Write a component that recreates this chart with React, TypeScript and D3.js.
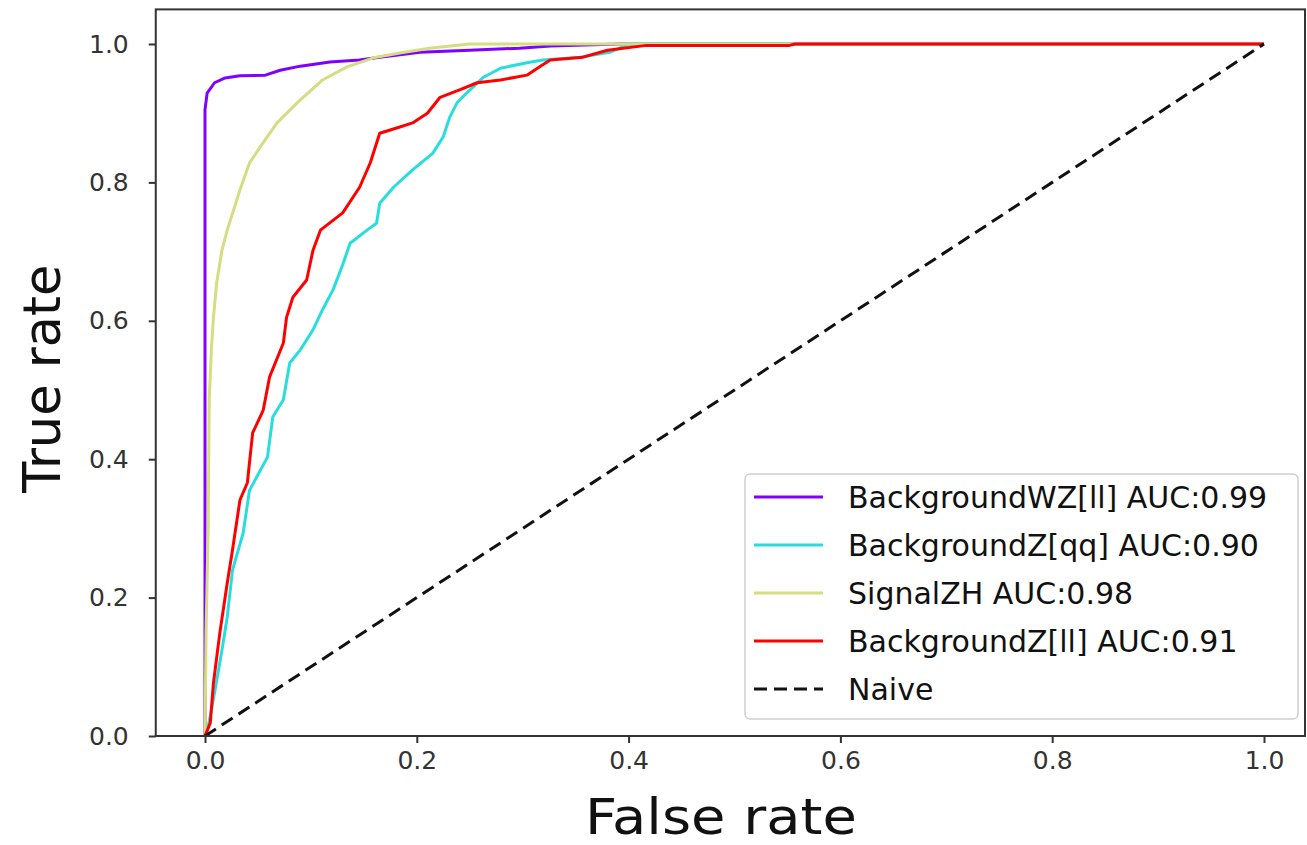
import React, { useEffect, useRef } from 'react';
import * as d3 from 'd3';

// ROC curves (false rate, true rate)
const WZ_LL_FPR = [0, 0, 0, 0.002, 0.009, 0.019, 0.033, 0.057, 0.071, 0.090, 0.118, 0.146, 0.165, 0.203, 0.250, 0.297, 0.326, 0.392, 1];
const WZ_LL_TPR = [0, 0.15, 0.905, 0.929, 0.944, 0.951, 0.954, 0.955, 0.962, 0.968, 0.974, 0.977, 0.981, 0.988, 0.991, 0.994, 0.997, 1.0, 1.0];

const Z_QQ_FPR = [0, 0.003, 0.009, 0.016, 0.021, 0.026, 0.036, 0.042, 0.059, 0.064, 0.074, 0.080, 0.090, 0.102, 0.111, 0.121, 0.130, 0.137, 0.153, 0.162, 0.165, 0.178, 0.196, 0.215, 0.225, 0.231, 0.238, 0.247, 0.263, 0.279, 0.304, 0.319, 0.354, 0.382, 0.401, 1];
const Z_QQ_TPR = [0, 0.013, 0.062, 0.124, 0.172, 0.240, 0.293, 0.355, 0.403, 0.461, 0.486, 0.539, 0.558, 0.587, 0.616, 0.645, 0.681, 0.712, 0.731, 0.741, 0.770, 0.793, 0.818, 0.842, 0.866, 0.894, 0.915, 0.929, 0.952, 0.965, 0.973, 0.977, 0.981, 0.988, 1.0, 1.0];

const ZH_FPR = [0, 0.001, 0.003, 0.004, 0.006, 0.008, 0.011, 0.016, 0.021, 0.033, 0.042, 0.052, 0.068, 0.087, 0.111, 0.134, 0.159, 0.184, 0.212, 0.250, 1];
const ZH_TPR = [0, 0.15, 0.30, 0.486, 0.558, 0.605, 0.655, 0.702, 0.731, 0.789, 0.828, 0.851, 0.886, 0.915, 0.948, 0.967, 0.980, 0.987, 0.994, 1.0, 1.0];

const Z_LL_FPR = [0, 0.005, 0.008, 0.014, 0.021, 0.026, 0.033, 0.040, 0.045, 0.055, 0.061, 0.074, 0.077, 0.083, 0.096, 0.102, 0.109, 0.130, 0.146, 0.156, 0.165, 0.184, 0.196, 0.210, 0.222, 0.241, 0.257, 0.279, 0.304, 0.316, 0.326, 0.357, 0.380, 0.417, 0.552, 0.557, 1];
const Z_LL_TPR = [0, 0.019, 0.077, 0.149, 0.221, 0.269, 0.341, 0.366, 0.438, 0.471, 0.519, 0.568, 0.605, 0.634, 0.659, 0.702, 0.731, 0.756, 0.793, 0.828, 0.871, 0.880, 0.886, 0.900, 0.923, 0.934, 0.944, 0.948, 0.955, 0.967, 0.977, 0.981, 0.991, 0.998, 0.998, 1.0, 1.0];

const SERIES_NAMES = ['BackgroundWZ[ll]', 'BackgroundZ[qq]', 'SignalZH', 'BackgroundZ[ll]'];
const SERIES_AUC = ['0.99', '0.90', '0.98', '0.91'];
const SERIES_FPR = [WZ_LL_FPR, Z_QQ_FPR, ZH_FPR, Z_LL_FPR];
const SERIES_TPR = [WZ_LL_TPR, Z_QQ_TPR, ZH_TPR, Z_LL_TPR];
const COLORS = ['#8000ff', '#2adddd', '#d4dd80', '#ff0000'];

const TICKS = [0, 0.2, 0.4, 0.6, 0.8, 1.0];

export default function App() {
  const svgRef = useRef<SVGSVGElement>(null);

  useEffect(() => {
    const width = 1307;
    const height = 845;
    const font = 'DejaVu Sans, sans-serif';

    const x = d3.scaleLinear().domain([0, 1]).range([205, 1264]);
    const y = d3.scaleLinear().domain([0, 1]).range([736, 44]);
    const frame = { x0: x(-0.0465), x1: 1305, y0: y(1.05), y1: y(0) };

    const svg = d3.select(svgRef.current);
    svg.selectAll('*').remove();
    svg.attr('width', width).attr('height', height).style('background', 'white');

    // clip curves to the axes box
    svg.append('clipPath').attr('id', 'plot-clip').append('rect')
      .attr('x', frame.x0).attr('y', frame.y0)
      .attr('width', frame.x1 - frame.x0).attr('height', frame.y1 - frame.y0);

    const plot = svg.append('g').attr('clip-path', 'url(#plot-clip)');
    const line = d3.line<[number, number]>().x(d => x(d[0])).y(d => y(d[1]));

    SERIES_NAMES.forEach((_, i) => {
      const pts: [number, number][] = SERIES_FPR[i].map((f, k) => [f, SERIES_TPR[i][k]]);
      plot.append('path').datum(pts).attr('d', line)
        .attr('fill', 'none').attr('stroke', COLORS[i]).attr('stroke-width', 3)
        .attr('stroke-linejoin', 'round');
    });

    plot.append('path').datum([[0, 0], [1, 1]] as [number, number][]).attr('d', line)
      .attr('fill', 'none').attr('stroke', '#111').attr('stroke-width', 3)
      .attr('stroke-dasharray', '13,7');

    // axes frame
    svg.append('rect').attr('x', frame.x0).attr('y', frame.y0)
      .attr('width', frame.x1 - frame.x0).attr('height', frame.y1 - frame.y0)
      .attr('fill', 'none').attr('stroke', '#333').attr('stroke-width', 2);

    const xAxis = svg.append('g').attr('transform', `translate(0,${frame.y1})`)
      .call(d3.axisBottom(x).tickValues(TICKS).tickFormat(d3.format('.1f')).tickSize(7).tickPadding(8));
    xAxis.select('.domain').remove();
    xAxis.selectAll('line').attr('stroke', '#333').attr('stroke-width', 2);
    xAxis.selectAll('text').style('font-family', font).style('font-size', '25px').attr('fill', '#333');

    const yAxis = svg.append('g').attr('transform', `translate(${frame.x0},0)`)
      .call(d3.axisLeft(y).tickValues(TICKS).tickFormat(d3.format('.1f')).tickSize(7).tickPadding(20));
    yAxis.select('.domain').remove();
    yAxis.selectAll('line').attr('stroke', '#333').attr('stroke-width', 2);
    yAxis.selectAll('text').style('font-family', font).style('font-size', '25px').attr('fill', '#333');

    svg.append('text').attr('x', 721).attr('y', 834).attr('text-anchor', 'middle')
      .attr('textLength', 272).attr('lengthAdjust', 'spacingAndGlyphs')
      .style('font-family', font).style('font-size', '50px').attr('fill', '#111')
      .text('False rate');
    svg.append('text').attr('transform', `translate(60,${(frame.y0 + frame.y1) / 2 + 6}) rotate(-90)`)
      .attr('text-anchor', 'middle')
      .style('font-family', font).style('font-size', '51px').attr('fill', '#111')
      .text('True rate');

    // legend
    const lg = svg.append('g');
    lg.append('rect').attr('x', 745).attr('y', 474).attr('width', 553).attr('height', 245)
      .attr('rx', 5).attr('fill', 'white').attr('fill-opacity', 0.85)
      .attr('stroke', '#d0d0d0').attr('stroke-width', 1.5);

    const labels = SERIES_NAMES.map((n, i) => `${n} AUC:${SERIES_AUC[i]}`).concat(['Naive']);
    const rowY = d3.scaleLinear().domain([0, 4]).range([497, 689]);
    labels.forEach((label, i) => {
      const ry = rowY(i);
      lg.append('line').attr('x1', 754).attr('x2', 823).attr('y1', ry).attr('y2', ry)
        .attr('stroke', i < 4 ? COLORS[i] : '#111').attr('stroke-width', 3)
        .attr('stroke-dasharray', i < 4 ? null : '13,7');
      lg.append('text').attr('x', 848).attr('y', ry + 11)
        .style('font-family', font).style('font-size', '30px').attr('fill', '#111')
        .text(label);
    });
  }, []);

  return (
    <div style={{ position: 'absolute', left: 0, top: 0 }}>
      <svg ref={svgRef} style={{ display: 'block' }}></svg>
    </div>
  );
}
